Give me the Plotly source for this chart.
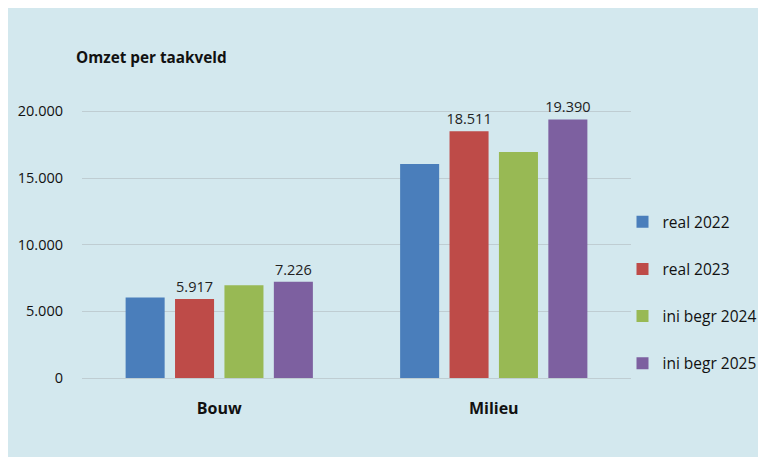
import plotly.graph_objects as go

categories = ["Bouw", "Milieu"]
series_names = ["real 2022", "real 2023", "ini begr 2024", "ini begr 2025"]
values_2022 = [6040, 16050]
values_2023 = [5917, 18511]
values_2024 = [6950, 16950]
values_2025 = [7226, 19390]
labelled = [False, True, False, True]
colors = ["#4a7ebb", "#be4b48", "#98b954", "#7d60a0"]
tick_vals = [0, 5000, 10000, 15000, 20000]
tick_text = ["0", "5.000", "10.000", "15.000", "20.000"]

all_values = [values_2022, values_2023, values_2024, values_2025]

FONT = "Open Sans"
fig = go.Figure()
for i, (name, vals) in enumerate(zip(series_names, all_values)):
    txt = [f"{v:,}".replace(",", ".") for v in vals] if labelled[i] else None
    fig.add_trace(go.Bar(
        x=categories, y=vals, name=name, marker_color=colors[i],
        marker_line_width=0,
        text=txt, textposition="outside" if labelled[i] else "none",
        constraintext="none",
        textfont=dict(size=14.5, color="#222222", family=FONT),
        cliponaxis=False, legendgroup=name,
    ))

# page is offset by the body margin (8px)
OFF = 8
W, H = 766 - OFF, 457 - OFF
L, R, T, B = 82 - OFF, W - (631.5 - OFF), 97.6 - OFF, H - (378 - OFF)
pw, ph = W - L - R, H - T - B

def px(x):
    return (x - OFF - L) / pw

def py(y):
    return (H - B - (y - OFF)) / ph

fig.add_annotation(text="<b>Omzet per taakveld</b>", xref="paper", yref="paper",
                   x=px(74), y=py(57), xanchor="left", yanchor="middle",
                   showarrow=False, font=dict(size=15.3, color="#111111", family=FONT))

fig.update_layout(
    width=W, height=H,
    margin=dict(l=L, r=R, t=T, b=B, autoexpand=False),
    paper_bgcolor="#d3e8ee", plot_bgcolor="rgba(0,0,0,0)",
    barmode="group", bargap=0.28, bargroupgap=0.21,
    font=dict(family=FONT, size=14, color="#111111"),
    showlegend=True,
    legend=dict(x=px(623), y=py(205), xanchor="left", yanchor="top",
                bgcolor="rgba(0,0,0,0)", tracegroupgap=24,
                font=dict(size=15.5, family=FONT, color="#111111")),
)
fig.update_xaxes(tickvals=categories,
                 ticktext=[f"<b>{c}</b>" for c in categories],
                 ticklabelstandoff=19, showgrid=False, showline=False,
                 tickfont=dict(size=16, family=FONT, color="#111111"))
fig.update_yaxes(range=[0, 21000], tickvals=tick_vals, ticktext=tick_text,
                 showgrid=True, gridcolor="#bfcdd2", gridwidth=1,
                 zeroline=True, zerolinecolor="#bfcdd2", zerolinewidth=1,
                 ticklabelstandoff=18,
                 tickfont=dict(size=14.5, family=FONT, color="#111111"))

fig.write_html("out.html")
